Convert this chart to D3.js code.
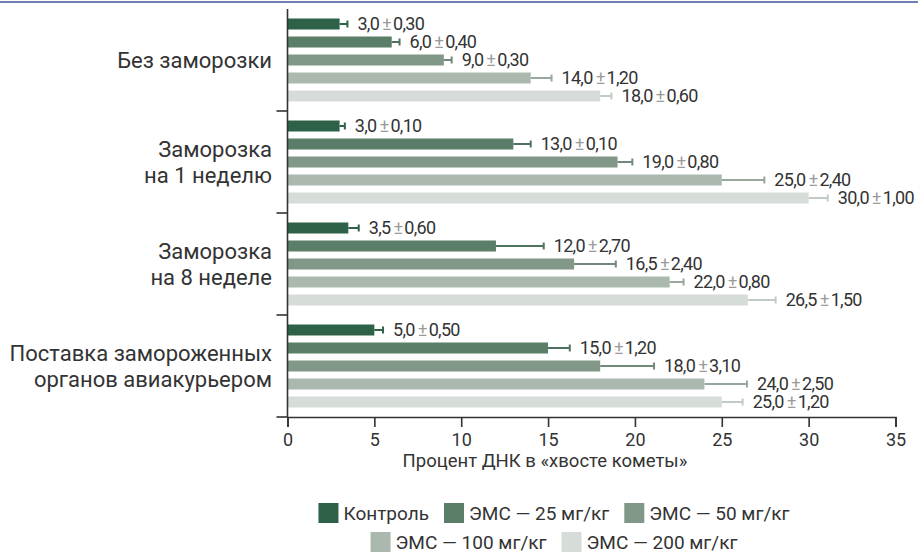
<!DOCTYPE html>
<html>
<head>
<meta charset="utf-8">
<script src="https://cdn.jsdelivr.net/npm/d3@7"></script>
<style>
  body { margin: 0; background: #fff; }
  svg text { font-family: Roboto, "Noto Sans", sans-serif; fill: #333; }
</style>
</head>
<body>
<div id="container"></div>
<script>
// groups (y categories), each label may be split into lines
var groups = ["Без заморозки", "Заморозка на 1 неделю", "Заморозка на 8 неделе", "Поставка замороженных органов авиакурьером"];
var groupLines = [["Без заморозки"], ["Заморозка", "на 1 неделю"], ["Заморозка", "на 8 неделе"], ["Поставка замороженных", "органов авиакурьером"]];

var series = ["Контроль", "ЭМС — 25 мг/кг", "ЭМС — 50 мг/кг", "ЭМС — 100 мг/кг", "ЭМС — 200 мг/кг"];
var colors = ["#2e6248", "#5b7e68", "#819888", "#abb8ae", "#d6dcd7"];
var errColors = ["#2e6248", "#4f7160", "#71897a", "#98a69c", "#c2cac4"];

// mean values per group (one array per series)
var control = [3.0, 3.0, 3.5, 5.0];
var ems25   = [6.0, 13.0, 12.0, 15.0];
var ems50   = [9.0, 19.0, 16.5, 18.0];
var ems100  = [14.0, 25.0, 22.0, 24.0];
var ems200  = [18.0, 30.0, 26.5, 25.0];

// stated deviations (labels)
var sdControl = [0.30, 0.10, 0.60, 0.50];
var sd25      = [0.40, 0.10, 2.70, 1.20];
var sd50      = [0.30, 0.80, 2.40, 3.10];
var sd100     = [1.20, 2.40, 0.80, 2.50];
var sd200     = [0.60, 1.00, 1.50, 1.20];

// whisker lengths as drawn in the picture
var whControl = [0.45, 0.3, 0.6, 0.5];
var wh25      = [0.45, 1.0, 2.75, 1.25];
var wh50      = [0.45, 0.85, 2.4, 3.1];
var wh100     = [1.2, 2.45, 0.8, 2.45];
var wh200     = [0.65, 1.1, 1.6, 1.2];

var xTicks = [0, 5, 10, 15, 20, 25, 30, 35];

var means = [control, ems25, ems50, ems100, ems200];
var sds = [sdControl, sd25, sd50, sd100, sd200];
var whiskers = [whControl, wh25, wh50, wh100, wh200];

var width = 918, height = 555;
var plot = {left: 287.5, right: 895.5, top: 9, bottom: 417};

var svg = d3.select("#container").append("svg")
	.attr("width", width)
	.attr("height", height);

// thin blue rule at the very top
svg.append("line")
	.attr("x1", 0).attr("x2", width)
	.attr("y1", 2).attr("y2", 2)
	.style("stroke", "#6e7fb6")
	.style("stroke-width", 2);

var x = d3.scaleLinear().domain([0, 35]).range([plot.left, plot.right]);
var y0 = d3.scaleBand().domain(groups).range([plot.top, plot.bottom]);
var y1 = d3.scaleBand().domain(series).range([9.5, 92.5]).paddingInner(7 / 18);

// flatten into rows
var rows = [];
groups.forEach(function(g, gi) {
	series.forEach(function(s, si) {
		rows.push({g: g, s: s, si: si, v: means[si][gi], sd: sds[si][gi], w: whiskers[si][gi]});
	});
});

var fmt1 = d3.format(".1f"), fmt2 = d3.format(".2f");
function comma(s) { return s.replace(".", ","); }

var bars = svg.append("g").selectAll(".bar")
	.data(rows).enter()
	.append("g")
		.attr("class", "bar")
		.attr("transform", function(d) { return "translate(0," + (y0(d.g) + y1(d.s)) + ")"; });

var bh = y1.bandwidth();

bars.append("rect")
	.attr("x", x(0))
	.attr("width", function(d) { return x(d.v) - x(0); })
	.attr("height", bh)
	.style("fill", function(d) { return colors[d.si]; });

// whiskers
bars.append("line")
	.attr("x1", function(d) { return x(d.v); })
	.attr("x2", function(d) { return x(d.v + d.w); })
	.attr("y1", bh / 2).attr("y2", bh / 2)
	.style("stroke", function(d) { return errColors[d.si]; })
	.style("stroke-width", 2);

bars.append("line")
	.attr("x1", function(d) { return x(d.v + d.w); })
	.attr("x2", function(d) { return x(d.v + d.w); })
	.attr("y1", bh / 2 - 3.5).attr("y2", bh / 2 + 3.5)
	.style("stroke", function(d) { return errColors[d.si]; })
	.style("stroke-width", 2);

// value labels
var lab = bars.append("text")
	.attr("x", function(d) { return x(d.v + d.w) + 10; })
	.attr("y", bh / 2)
	.attr("dy", "0.36em")
	.style("font-size", "18px")
	.style("letter-spacing", "-0.7px");
lab.append("tspan").text(function(d) { return comma(fmt1(d.v)); });
lab.append("tspan").attr("dx", 3).style("fill", "#9a9a9a").text("±");
lab.append("tspan").attr("dx", 2).text(function(d) { return comma(fmt2(d.sd)); });

// x axis
var xAxis = d3.axisBottom(x).tickValues(xTicks).tickSize(10).tickSizeOuter(10).tickPadding(6);
var gx = svg.append("g")
	.attr("class", "x axis")
	.attr("transform", "translate(0," + plot.bottom + ")")
	.call(xAxis);
gx.selectAll("path, line").style("stroke", "#333").style("stroke-width", 1.6);
gx.selectAll("text").style("font-size", "18px").style("fill", "#333").style("font-family", "Roboto");

svg.append("text")
	.attr("x", 545)
	.attr("y", 467)
	.style("text-anchor", "middle")
	.style("font-size", "18.5px")
	.text("Процент ДНК в «хвосте кометы»");

// y axis: vertical line plus separator ticks at band edges
var gy = svg.append("g").attr("class", "y axis");
gy.append("line")
	.attr("x1", x(0)).attr("x2", x(0))
	.attr("y1", plot.top).attr("y2", plot.bottom)
	.style("stroke", "#333").style("stroke-width", 1.6);
gy.selectAll(".sep")
	.data(groups.slice(1).concat(["end"])).enter()
	.append("line")
		.attr("class", "sep")
		.attr("x1", x(0) - 11).attr("x2", x(0))
		.attr("y1", function(d) { return d === "end" ? plot.bottom : y0(d); })
		.attr("y2", function(d) { return d === "end" ? plot.bottom : y0(d); })
		.style("stroke", "#333").style("stroke-width", 1.6);

var cat = gy.selectAll(".cat")
	.data(groups).enter()
	.append("text")
		.attr("class", "cat")
		.attr("text-anchor", "end")
		.style("font-size", "22px");
cat.each(function(d, i) {
	var lines = groupLines[i];
	var cy = y0(d) + y0.bandwidth() / 2;
	var t = d3.select(this);
	lines.forEach(function(l, li) {
		t.append("tspan")
			.attr("x", 272)
			.attr("y", cy + (li - (lines.length - 1) / 2) * 26)
			.attr("dy", "0.35em")
			.text(l);
	});
});

// legend in two centered rows
var legendRows = [[0, 1, 2], [3, 4]];
var legendY = [503, 532];
var legendCenter = 554;
legendRows.forEach(function(r, ri) {
	var g = svg.append("g").attr("class", "legend");
	var cx = 0;
	r.forEach(function(si, k) {
		var item = g.append("g").attr("transform", "translate(" + cx + ",0)");
		item.append("rect")
			.attr("width", 20).attr("height", 20)
			.style("fill", colors[si]);
		var t = item.append("text")
			.attr("x", 25).attr("y", 10)
			.attr("dy", "0.36em")
			.style("font-size", "19px")
			.text(series[si]);
		cx += 25 + t.node().getComputedTextLength() + (k < r.length - 1 ? 15 : 0);
	});
	g.attr("transform", "translate(" + (legendCenter - cx / 2) + "," + legendY[ri] + ")");
});
</script>
</body>
</html>
